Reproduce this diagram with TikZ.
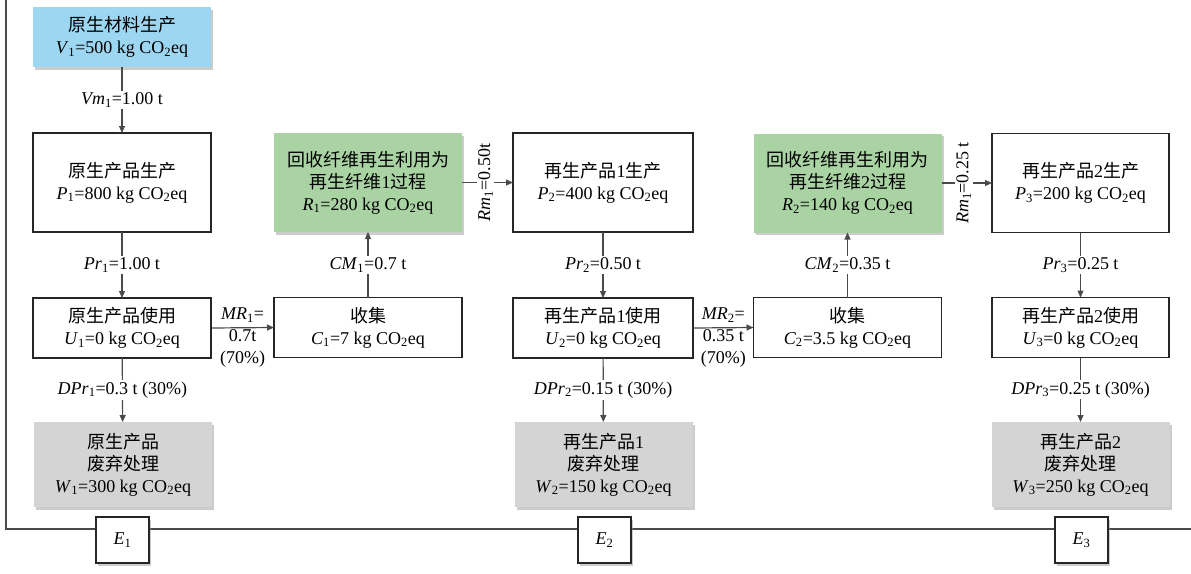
\documentclass[tikz,border=0pt]{standalone}
\usepackage{fontspec}
\setmainfont{Liberation Serif}
\newfontfamily\cjk{Noto Sans CJK SC}
\usetikzlibrary{arrows.meta,shadows}
\definecolor{rawblue}{HTML}{9DD6F0}
\definecolor{recgreen}{HTML}{A9D3A3}
\definecolor{wastegray}{HTML}{D4D4D4}
\definecolor{linegray}{HTML}{4A4A4A}
\newcommand{\vsub}[2]{\textit{#1}\textsubscript{#2}}
\newcommand{\cotwo}{CO\textsubscript{2}eq}

\begin{document}
\begin{tikzpicture}[x=1pt, y=-1pt,
    font=\fontsize{18}{22}\selectfont,
    box/.style={draw=black!85, line width=1.3pt, fill=white, align=center,
      inner sep=0pt, outer sep=0pt, minimum width=178pt},
    widebox/.style={box, minimum width=188pt},
    shade/.style={draw=none, drop shadow={shadow xshift=2pt, shadow yshift=-2.5pt, fill=black!40}},
    rawbox/.style={box, shade, fill=rawblue, minimum height=60pt},
    recbox/.style={widebox, shade, fill=recgreen, minimum height=99pt},
    wastebox/.style={box, shade, fill=wastegray, minimum height=85pt},
    ebox/.style={box, minimum width=53pt, minimum height=46pt,
      drop shadow={shadow xshift=1.5pt, shadow yshift=-2.5pt, fill=black!40}},
    flow/.style={draw=linegray, line width=1.2pt, -{Triangle[length=7pt,width=6pt]}},
    flowlbl/.style={fill=white, inner sep=1.5pt},
  ]
  \useasboundingbox (0,0) rectangle (1191,573);

  % Frame round the life cycle
  \coordinate (frametop) at (6,0);
  \coordinate (framecorner) at (6,529);
  \coordinate (frameend) at (1191,529);
  \draw[draw=linegray, line width=1.2pt] (frametop) -- (framecorner) -- (frameend);

  % Draw the boxes
  \node[rawbox] (V1) at (122,37) {{\cjk 原生材料生产}\\\vsub{V}{1}=500 kg \cotwo};

  \node[box, minimum height=99pt] (P1) at (122,182.5) {{\cjk 原生产品生产}\\\vsub{P}{1}=800 kg \cotwo};
  \node[recbox] (R1) at (368,182.5) {{\cjk 回收纤维再生利用为}\\{\cjk 再生纤维}1{\cjk 过程}\\\vsub{R}{1}=280 kg \cotwo};
  \node[box, minimum width=180pt, minimum height=99pt] (P2) at (603,182.5) {{\cjk 再生产品}1{\cjk 生产}\\\vsub{P}{2}=400 kg \cotwo};
  \node[recbox] (R2) at (847.5,183) {{\cjk 回收纤维再生利用为}\\{\cjk 再生纤维}2{\cjk 过程}\\\vsub{R}{2}=140 kg \cotwo};
  \node[box, minimum width=177pt, minimum height=99pt] (P3) at (1080.5,183) {{\cjk 再生产品}2{\cjk 生产}\\\vsub{P}{3}=200 kg \cotwo};

  \node[box, minimum height=60pt] (U1) at (122,328) {{\cjk 原生产品使用}\\\vsub{U}{1}=0 kg \cotwo};
  \node[widebox, minimum height=60pt] (C1) at (368,327.5) {{\cjk 收集}\\\vsub{C}{1}=7 kg \cotwo};
  \node[box, minimum width=180pt, minimum height=60pt] (U2) at (603,328) {{\cjk 再生产品}1{\cjk 使用}\\\vsub{U}{2}=0 kg \cotwo};
  \node[widebox, minimum height=60pt] (C2) at (847.5,327.5) {{\cjk 收集}\\\vsub{C}{2}=3.5 kg \cotwo};
  \node[box, minimum width=177pt, minimum height=60pt] (U3) at (1080.5,327.5) {{\cjk 再生产品}2{\cjk 使用}\\\vsub{U}{3}=0 kg \cotwo};

  \node[wastebox] (W1) at (123,464.5) {{\cjk 原生产品}\\{\cjk 废弃处理}\\\vsub{W}{1}=300 kg \cotwo};
  \node[wastebox] (W2) at (603.5,464.5) {{\cjk 再生产品}1\\{\cjk 废弃处理}\\\vsub{W}{2}=150 kg \cotwo};
  \node[wastebox] (W3) at (1080.5,464.5) {{\cjk 再生产品}2\\{\cjk 废弃处理}\\\vsub{W}{3}=250 kg \cotwo};

  \node[ebox] (E1) at (122.5,540) {\vsub{E}{1}};
  \node[ebox] (E2) at (604.5,540) {\vsub{E}{2}};
  \node[ebox] (E3) at (1081.5,540) {\vsub{E}{3}};

  % Material flows between the boxes
  \draw[flow] (V1) -- node[flowlbl] {\vsub{Vm}{1}=1.00 t} (P1);
  \draw[flow] (P1) -- node[flowlbl] {\vsub{Pr}{1}=1.00 t} (U1);
  \draw[flow] (U1) -- node[flowlbl] {\vsub{DPr}{1}=0.3 t (30\%)} (W1);
  \draw[flow] (U1.east) -- node[midway, align=center, yshift=-10pt] {\vsub{MR}{1}=\\0.7t\\(70\%)} (C1.west);
  \draw[flow] (C1) -- node[flowlbl] {\vsub{CM}{1}=0.7 t} (R1);
  \draw[flow] (R1.east) -- node[flowlbl, rotate=90, xshift=0pt, yshift=2pt] {\vsub{Rm}{1}=0.50t} (P2.west);

  \draw[flow] (P2) -- node[flowlbl] {\vsub{Pr}{2}=0.50 t} (U2);
  \draw[flow] (U2) -- node[flowlbl] {\vsub{DPr}{2}=0.15 t (30\%)} (W2);
  \draw[flow] (U2.east) -- node[midway, align=center, yshift=-10pt] {\vsub{MR}{2}=\\0.35 t\\(70\%)} (C2.west);
  \draw[flow] (C2) -- node[flowlbl] {\vsub{CM}{2}=0.35 t} (R2);
  \draw[flow] (R2.east) -- node[flowlbl, rotate=90, yshift=3pt] {\vsub{Rm}{1}=0.25 t} (P3.west);

  \draw[flow] (P3) -- node[flowlbl] {\vsub{Pr}{3}=0.25 t} (U3);
  \draw[flow] (U3) -- node[flowlbl] {\vsub{DPr}{3}=0.25 t (30\%)} (W3);
\end{tikzpicture}
\end{document}
